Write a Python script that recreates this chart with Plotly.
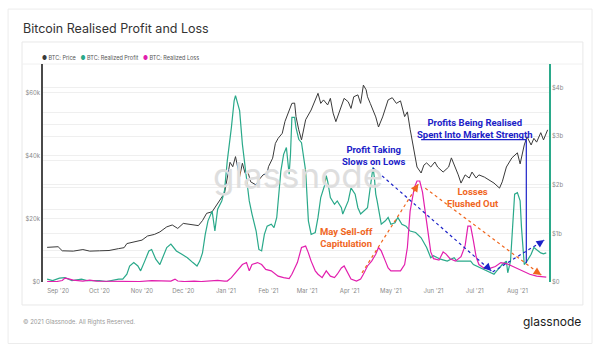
import plotly.graph_objects as go

# ---------------- data ----------------
price_dates = ["2020-08-24","2020-09-01","2020-09-04","2020-09-12","2020-09-19","2020-09-24","2020-10-01","2020-10-08",
 "2020-10-15","2020-10-19","2020-10-21","2020-10-28","2020-11-01","2020-11-05","2020-11-10","2020-11-14","2020-11-19",
 "2020-11-23","2020-11-27","2020-12-01","2020-12-07","2020-12-12","2020-12-15","2020-12-18","2020-12-22","2020-12-25",
 "2020-12-29","2020-12-31","2021-01-02","2021-01-04","2021-01-06","2021-01-08","2021-01-11","2021-01-13","2021-01-15",
 "2021-01-17","2021-01-19","2021-01-21","2021-01-23","2021-01-25","2021-01-28","2021-01-31","2021-02-01","2021-02-04",
 "2021-02-06","2021-02-08","2021-02-11","2021-02-13","2021-02-16","2021-02-18","2021-02-20","2021-02-21","2021-02-23",
 "2021-02-25","2021-02-28","2021-03-04","2021-03-09","2021-03-11","2021-03-13","2021-03-16","2021-03-18","2021-03-20",
 "2021-03-22","2021-03-26","2021-03-28","2021-03-31","2021-04-02","2021-04-04","2021-04-07","2021-04-09","2021-04-11",
 "2021-04-13","2021-04-14","2021-04-16","2021-04-20","2021-04-22","2021-04-25","2021-04-29","2021-05-02","2021-05-05",
 "2021-05-08","2021-05-11","2021-05-13","2021-05-15","2021-05-18","2021-05-20","2021-05-23","2021-05-25","2021-05-27",
 "2021-05-30","2021-06-02","2021-06-04","2021-06-08","2021-06-12","2021-06-14","2021-06-17","2021-06-19","2021-06-21",
 "2021-06-24","2021-06-27","2021-06-29","2021-07-02","2021-07-04","2021-07-08","2021-07-11","2021-07-15","2021-07-19",
 "2021-07-21","2021-07-24","2021-07-28","2021-08-01","2021-08-03","2021-08-06","2021-08-08","2021-08-11","2021-08-13",
 "2021-08-15","2021-08-18","2021-08-20","2021-08-23"]
price_k = [11.0,11.2,9.9,9.8,10.3,9.8,9.9,10.0,10.6,10.9,12.2,12.8,13.3,14.6,15.1,15.9,17.5,18.1,17.0,18.6,18.1,17.9,
 19.5,21.8,22.3,24.4,27.1,28.2,33.0,38.0,36.6,39.8,33.4,37.7,34.5,35.0,31.8,31.3,30.8,32.4,34.0,34.5,36.6,39.3,44.0,
 45.6,47.2,51.0,54.6,56.7,56.8,52.5,48.3,45.1,51.5,54.6,59.9,56.7,57.8,56.2,58.3,53.6,50.9,56.2,58.3,57.2,55.1,58.8,
 59.4,56.7,62.5,61.0,58.8,56.7,52.4,49.2,52.4,57.8,58.5,56.7,57.5,52.5,54.0,48.5,41.5,36.5,34.6,37.1,37.8,36.5,38.1,
 36.5,34.9,36.5,39.4,36.5,34.0,31.4,34.0,33.0,34.9,33.0,34.0,33.3,32.4,31.4,29.8,31.8,36.5,39.4,41.0,37.5,43.5,46.1,
 43.5,45.6,44.4,47.4,45.1,48.3]

profit_dates = ["2020-08-24","2020-08-28","2020-09-02","2020-09-06","2020-09-11","2020-09-14","2020-09-18","2020-09-22",
 "2020-09-26","2020-10-01","2020-10-06","2020-10-10","2020-10-15","2020-10-18","2020-10-21","2020-10-23","2020-10-26",
 "2020-10-29","2020-10-31","2020-11-03","2020-11-06","2020-11-08","2020-11-11","2020-11-14","2020-11-17","2020-11-19",
 "2020-11-22","2020-11-26","2020-11-30","2020-12-04","2020-12-08","2020-12-11","2020-12-13","2020-12-15","2020-12-17",
 "2020-12-19","2020-12-22","2020-12-24","2020-12-26","2020-12-29","2020-12-31","2021-01-02","2021-01-05","2021-01-07",
 "2021-01-08","2021-01-11","2021-01-13","2021-01-16","2021-01-18","2021-01-20","2021-01-23","2021-01-25","2021-01-27",
 "2021-01-29","2021-01-31","2021-02-03","2021-02-05","2021-02-07","2021-02-08","2021-02-10","2021-02-12","2021-02-14",
 "2021-02-16","2021-02-17","2021-02-18","2021-02-20","2021-02-21","2021-02-23","2021-02-25","2021-02-28","2021-03-02",
 "2021-03-04","2021-03-07","2021-03-09","2021-03-11","2021-03-14","2021-03-15","2021-03-16","2021-03-18","2021-03-21",
 "2021-03-23","2021-03-26","2021-03-27","2021-03-28","2021-03-31","2021-04-02","2021-04-05","2021-04-07","2021-04-09",
 "2021-04-14","2021-04-16","2021-04-18","2021-04-19","2021-04-20","2021-04-21","2021-04-24","2021-04-27","2021-04-29",
 "2021-05-01","2021-05-04","2021-05-06","2021-05-09","2021-05-12","2021-05-15","2021-05-19","2021-05-23","2021-05-27",
 "2021-05-30","2021-06-01","2021-06-06","2021-06-11","2021-06-16","2021-06-18","2021-06-23","2021-06-28","2021-06-30",
 "2021-07-05","2021-07-10","2021-07-15","2021-07-17","2021-07-21","2021-07-24","2021-07-25","2021-07-27","2021-07-28",
 "2021-07-30","2021-08-01","2021-08-03","2021-08-04","2021-08-06","2021-08-08","2021-08-11","2021-08-13","2021-08-15",
 "2021-08-18","2021-08-20","2021-08-22"]
profit_b = [0.06,0.03,0.08,0.09,0.03,0.04,0.06,0.03,0.035,0.03,0.01,0.035,0.06,0.06,0.16,0.33,0.40,0.33,0.23,0.43,0.64,
 0.67,0.47,0.36,0.57,0.71,0.78,0.64,0.57,0.50,0.40,0.33,0.43,0.60,0.98,1.26,1.46,1.05,1.50,1.67,1.88,2.49,3.18,3.73,
 3.84,3.53,2.84,2.08,1.67,1.40,1.05,0.67,0.64,0.98,1.15,1.19,1.12,1.33,1.67,2.29,2.63,2.77,2.22,2.63,3.39,3.39,3.18,
 2.94,2.87,2.29,1.26,0.98,1.02,1.33,1.74,2.01,2.19,2.08,1.74,1.60,1.67,1.53,1.40,1.46,1.67,1.94,1.81,1.53,1.40,1.53,
 1.94,2.36,2.15,1.81,1.67,1.19,1.26,1.33,1.19,1.22,1.33,1.19,1.15,1.05,1.02,0.91,0.71,0.50,0.54,0.47,0.43,0.50,0.43,
 0.43,0.43,0.36,0.29,0.23,0.16,0.23,0.36,0.43,0.19,0.43,0.98,1.81,1.84,1.67,1.12,0.36,0.43,0.57,0.71,0.67,0.60,0.58,0.60]

loss_dates = ["2020-08-24","2020-08-31","2020-09-04","2020-09-06","2020-09-08","2020-09-12","2020-09-19","2020-09-24",
 "2020-09-29","2020-10-06","2020-10-14","2020-10-21","2020-10-30","2020-11-08","2020-11-14","2020-11-22","2020-11-25",
 "2020-11-27","2020-12-02","2020-12-09","2020-12-14","2020-12-22","2020-12-26","2020-12-31","2021-01-02","2021-01-05",
 "2021-01-07","2021-01-10","2021-01-13","2021-01-16","2021-01-18","2021-01-20","2021-01-24","2021-01-27","2021-01-30",
 "2021-02-03","2021-02-06","2021-02-08","2021-02-12","2021-02-16","2021-02-18","2021-02-22","2021-02-25","2021-02-28",
 "2021-03-02","2021-03-04","2021-03-07","2021-03-09","2021-03-12","2021-03-15","2021-03-18","2021-03-21","2021-03-23",
 "2021-03-26","2021-03-28","2021-03-31","2021-04-02","2021-04-06","2021-04-09","2021-04-11","2021-04-14","2021-04-17",
 "2021-04-20","2021-04-22","2021-04-24","2021-04-27","2021-04-29","2021-05-01","2021-05-04","2021-05-08","2021-05-11",
 "2021-05-13","2021-05-15","2021-05-18","2021-05-20","2021-05-22","2021-05-24","2021-05-26","2021-05-28","2021-05-30",
 "2021-06-01","2021-06-05","2021-06-08","2021-06-10","2021-06-13","2021-06-17","2021-06-21","2021-06-24","2021-06-26",
 "2021-06-28","2021-06-30","2021-07-02","2021-07-04","2021-07-08","2021-07-12","2021-07-16","2021-07-20","2021-07-24",
 "2021-07-28","2021-08-01","2021-08-05","2021-08-10","2021-08-15","2021-08-19","2021-08-22"]
loss_b = [0.01,0.01,0.03,0.08,0.07,0.04,0.02,0.04,0.02,0.015,0.01,0.01,0.01,0.03,0.02,0.02,0.06,0.02,0.01,0.02,0.01,
 0.02,0.035,0.02,0.02,0.09,0.16,0.26,0.36,0.40,0.23,0.36,0.40,0.36,0.26,0.23,0.16,0.12,0.09,0.07,0.16,0.40,0.71,0.74,
 0.60,0.43,0.23,0.16,0.09,0.23,0.12,0.09,0.16,0.29,0.33,0.16,0.06,0.02,0.06,0.16,0.33,0.43,0.57,0.71,0.64,0.43,0.29,
 0.23,0.23,0.23,0.36,0.71,1.46,1.94,2.08,2.08,1.85,1.45,1.00,0.62,0.48,0.45,0.62,0.58,0.48,0.43,0.52,0.75,1.15,1.15,
 0.85,0.52,0.36,0.28,0.28,0.32,0.40,0.38,0.33,0.28,0.22,0.16,0.12,0.10,0.10]

price_usd = [v * 1000 for v in price_k]
profit_usd = [v * 1e9 for v in profit_b]
loss_usd = [v * 1e9 for v in loss_b]

left_ticks = [0, 20000, 40000, 60000]
left_text = ["$0", "$20k", "$40k", "$60k"]
right_ticks = [0, 1e9, 2e9, 3e9, 4e9]
right_text = ["$0", "$1b", "$2b", "$3b", "$4b"]

C_PRICE = "#3a3a3a"
C_PROFIT = "#2aa98a"
C_LOSS = "#e21fae"
C_BLUE = "#1c22c8"
C_ORANGE = "#f0661e"
FONT = "Inter"

fig = go.Figure()
fig.add_trace(go.Scatter(x=price_dates, y=price_usd, mode="lines", name="BTC: Price",
                         line=dict(color=C_PRICE, width=1), yaxis="y"))
fig.add_trace(go.Scatter(x=profit_dates, y=profit_usd, mode="lines", name="BTC: Realized Profit",
                         line=dict(color=C_PROFIT, width=1.2), yaxis="y2"))
fig.add_trace(go.Scatter(x=loss_dates, y=loss_usd, mode="lines", name="BTC: Realized Loss",
                         line=dict(color=C_LOSS, width=1.2), yaxis="y2"))

grid = "#efefef"
fig.update_layout(
    width=600, height=351,
    margin=dict(l=43, r=51, t=64, b=69),
    paper_bgcolor="white", plot_bgcolor="white",
    showlegend=False,
    font=dict(family=FONT, color="#8a8a8a", size=6),
    xaxis=dict(type="date", range=["2020-08-21", "2021-08-24"], dtick="M1", tick0="2020-09-01",
               tickformat="%b '%y", showgrid=False, zeroline=False, showline=False, ticks="",
               ticklabelstandoff=4, tickfont=dict(size=6, color="#8a8a8a")),
    yaxis=dict(range=[0, 69200], tickvals=left_ticks, ticktext=left_text, showgrid=True, gridcolor=grid,
               gridwidth=1, zeroline=False, showline=True, linecolor="#4a4a4a", linewidth=1.5, ticks="",
               tickfont=dict(size=6, color="#8a8a8a"),
               minor=dict(dtick=10000, showgrid=True, gridcolor=grid, ticks="")),
    yaxis2=dict(range=[0, 4.49e9], overlaying="y", side="right", tickvals=right_ticks, ticktext=right_text,
                showgrid=True, gridcolor=grid, zeroline=False, showline=True, linecolor=C_PROFIT, linewidth=1.5,
                ticks="", tickfont=dict(size=6, color="#8a8a8a"),
                minor=dict(dtick=0.5e9, showgrid=True, gridcolor=grid, ticks="")),
)

# card and inner box
shapes = [
    dict(type="rect", xref="paper", yref="paper", x0=-0.069, x1=1.085, y0=-0.282, y1=1.252,
         line=dict(color="#ececec", width=1), fillcolor="rgba(0,0,0,0)", layer="below"),
    dict(type="rect", xref="paper", yref="paper", x0=-0.0415, x1=1.067, y0=-0.1055, y1=1.101,
         line=dict(color="#e8e8e8", width=1), fillcolor="rgba(0,0,0,0)", layer="below"),
    dict(type="line", xref="paper", yref="paper", x0=-0.0415, x1=1.067, y0=1.0, y1=1.0,
         line=dict(color="#f0f0f0", width=1), layer="below"),
]

# dotted arrow lines (data coordinates: left axis)
arrows = [
    ("2021-04-18", 36200, "2021-07-13", 3500, C_BLUE, -5, -5),
    ("2021-07-14", 3200, "2021-08-20 12:00", 13300, C_BLUE, -6, 4),
    ("2021-05-26", 29800, "2021-08-18 10:00", 2200, C_ORANGE, -6, -4),
    ("2021-04-10", 2900, "2021-05-21", 31100, C_ORANGE, -4, 6),
]
annotations = []
for x0, y0, x1, y1, col, ax, ay in arrows:
    shapes.append(dict(type="line", xref="x", yref="y", x0=x0, y0=y0, x1=x1, y1=y1,
                       line=dict(color=col, width=1.2, dash="dot")))
    annotations.append(dict(x=x1, y=y1, xref="x", yref="y", text="", showarrow=True, ax=ax, ay=ay,
                            arrowhead=2, arrowsize=1.1, arrowwidth=1.4, arrowcolor=col))

# solid blue bracket line
shapes.append(dict(type="line", xref="x", yref="y", x0="2021-05-23", x1="2021-08-07 12:00", y0=45200, y1=45200,
                   line=dict(color=C_BLUE, width=1.2)))
shapes.append(dict(type="line", xref="x", yref="y", x0="2021-08-07 12:00", x1="2021-08-07 12:00", y0=45200, y1=6000,
                   line=dict(color=C_BLUE, width=1.2)))
fig.update_layout(shapes=shapes)

BOLD = "Roboto"
annotations = [
    dict(x=0.504, y=0.49, xref="paper", yref="paper", text="glassnode", showarrow=False,
         font=dict(family=FONT, size=35, color="#dedede")),
] + annotations + [
    dict(x="2021-04-18", y=40300, xref="x", yref="y", text="<b>Profit Taking<br>Slows on Lows</b>", showarrow=False,
         font=dict(family=BOLD, size=9.5, color=C_BLUE)),
    dict(x="2021-07-01", y=48600, xref="x", yref="y", text="<b>Profits Being Realised<br>Spent Into Market Strength</b>",
         showarrow=False, font=dict(family=BOLD, size=9.5, color=C_BLUE)),
    dict(x="2021-06-30", y=26700, xref="x", yref="y", text="<b>Losses<br>Flushed Out</b>", showarrow=False,
         font=dict(family=BOLD, size=9.5, color=C_ORANGE)),
    dict(x="2021-03-30", y=14000, xref="x", yref="y", text="<b>May Sell-off<br>Capitulation</b>", showarrow=False,
         font=dict(family=BOLD, size=9.5, color=C_ORANGE)),
    dict(x=-0.0435, y=1.165, xref="paper", yref="paper", xanchor="left", yanchor="middle",
         text="Bitcoin Realised Profit and Loss", showarrow=False, font=dict(family=FONT, size=12.5, color="#333333")),
    dict(x=-0.006, y=1.032, xref="paper", yref="paper", xanchor="left", yanchor="middle", showarrow=False,
         text=(f'<span style="color:{C_PRICE}">●</span> BTC: Price   '
               f'<span style="color:{C_PROFIT}">●</span> BTC: Realized Profit   '
               f'<span style="color:{C_LOSS}">●</span> BTC: Realized Loss'),
         font=dict(family=FONT, size=5.5, color="#555555")),
    dict(x=-0.0435, y=-0.183, xref="paper", yref="paper", xanchor="left", yanchor="middle", showarrow=False,
         text="© 2021 Glassnode. All Rights Reserved.", font=dict(family=FONT, size=6, color="#9a9a9a")),
    dict(x=1.067, y=-0.179, xref="paper", yref="paper", xanchor="right", yanchor="middle", showarrow=False,
         text="glassnode", font=dict(family=FONT, size=12, color="#1a1a1a")),
]
fig.update_layout(annotations=annotations)

fig.write_html("out.html")
